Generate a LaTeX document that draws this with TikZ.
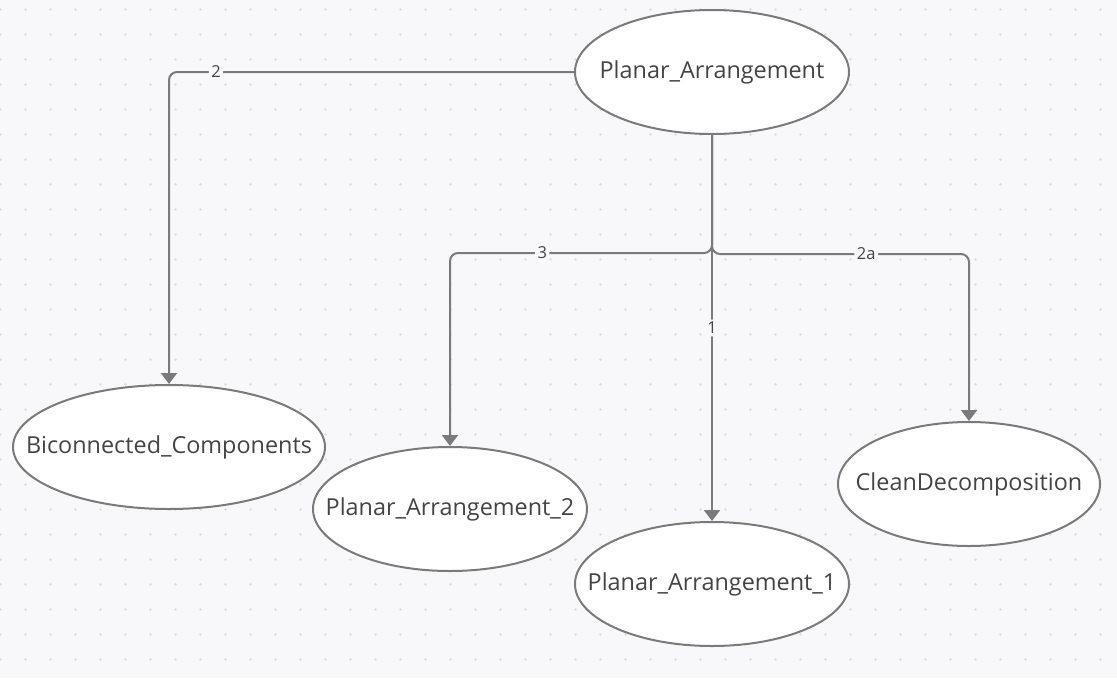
\documentclass[tikz,border=0pt]{standalone}
\usepackage{fontspec}
\setmainfont{Open Sans}
\usetikzlibrary{shapes.geometric,arrows.meta}
\definecolor{bgc}{HTML}{F8F8FB}
\definecolor{dotc}{HTML}{DCDCE2}
\definecolor{linec}{HTML}{7A7A7A}
\definecolor{txtc}{HTML}{444444}
\tikzset{
  ell/.style={ellipse, draw=linec, line width=2pt, fill=white, inner sep=0pt,
    minimum height=124pt, text=txtc, font=\fontsize{23.4}{26}\selectfont},
  edge/.style={draw=linec, line width=2pt, rounded corners=8pt,
    -{Triangle[width=16pt,length=11pt]}},
  lbl/.style={fill=bgc, text=txtc, inner sep=2.5pt, font=\fontsize{16.5}{18}\selectfont}
}
\newcommand{\ctxt}[1]{\makebox[0pt]{#1}}
\begin{document}
\begin{tikzpicture}[x=1pt,y=-1pt]
\useasboundingbox (0,0) rectangle (1117,678);
\fill[bgc] (0,0) rectangle (1117,678);
\foreach \i in {0,...,44}{
  \foreach \j in {0,...,26}{
    \fill[dotc] (25*\i+0.5,25*\j+9.5) circle (1.4pt);
  }
}
\node[ell, minimum width=274pt] (pa) at (712,72) {\ctxt{Planar\_Arrangement}};
\node[ell, minimum width=312pt] (bc) at (169,447) {\ctxt{Biconnected\_Components}};
\node[ell, minimum width=274pt] (pa2) at (450,509) {\ctxt{Planar\_Arrangement\_2}};
\node[ell, minimum width=274pt] (pa1) at (712,584) {\ctxt{Planar\_Arrangement\_1}};
\node[ell, minimum width=262pt] (cd) at (969,484) {\ctxt{CleanDecomposition}};

\draw[edge] (pa.west) -| node[lbl,pos=0.442]{2} (bc.north);
\draw[edge] (pa.south) -- ++(0,118) -| node[lbl,pos=0.324]{3} (pa2.north);
\draw[edge] (pa.south) -- node[lbl,pos=0.5]{1} (pa1.north);
\draw[edge] (pa.south) -- ++(0,119) -| node[lbl,pos=0.3]{2a} (cd.north);
\end{tikzpicture}
\end{document}
